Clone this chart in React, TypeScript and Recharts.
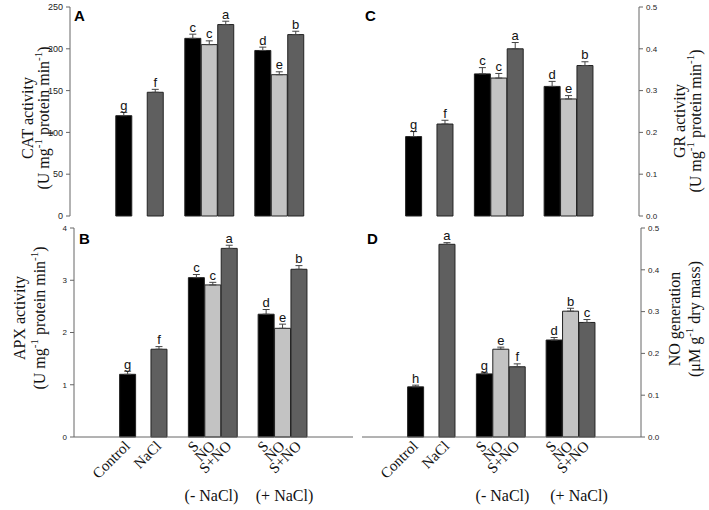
import type { ReactNode } from 'react';
import {
  Bar,
  Cell,
  ComposedChart,
  ErrorBar,
  LabelList,
  XAxis,
  YAxis,
} from 'recharts';

// treatments, left to right, and the two salt groups under the triplets
const treatments = ['Control', 'NaCl', 'S', 'NO', 'S+NO', 'S', 'NO', 'S+NO'];
const saltGroups = ['(- NaCl)', '(+ NaCl)'];

// A: CAT activity
const catMean = [120, 148, 212.5, 205, 229, 198, 169, 217];
const catErr = [4, 3.5, 5, 4.5, 4, 4, 3.5, 4];
const catLetters = ['g', 'f', 'c', 'c', 'a', 'd', 'e', 'b'];
const catTicks = [0, 50, 100, 150, 200, 250];

// B: APX activity
const apxMean = [1.2, 1.68, 3.05, 2.91, 3.61, 2.35, 2.08, 3.21];
const apxErr = [0.06, 0.05, 0.06, 0.05, 0.06, 0.09, 0.08, 0.07];
const apxLetters = ['g', 'f', 'c', 'c', 'a', 'd', 'e', 'b'];
const apxTicks = [0, 1, 2, 3, 4];

// C: GR activity
const grMean = [0.19, 0.22, 0.34, 0.33, 0.4, 0.31, 0.28, 0.36];
const grErr = [0.012, 0.009, 0.015, 0.011, 0.015, 0.012, 0.008, 0.009];
const grLetters = ['g', 'f', 'c', 'c', 'a', 'd', 'e', 'b'];

// D: NO generation
const noMean = [0.12, 0.461, 0.151, 0.21, 0.168, 0.232, 0.301, 0.274];
const noErr = [0.004, 0.004, 0.004, 0.005, 0.007, 0.006, 0.007, 0.007];
const noLetters = ['h', 'a', 'g', 'e', 'f', 'd', 'b', 'c'];

const fractionTicks = [0, 0.1, 0.2, 0.3, 0.4, 0.5];

// bar slots along a 0..17 axis, one unit = one bar width
const SLOTS = [3.28, 5.19, 7.47, 8.47, 9.47, 11.72, 12.72, 13.72];
const X_DOMAIN: [number, number] = [0, 17];

const BLACK = '#000000';
const DARK = '#5f5f5f';
const LIGHT = '#c3c3c3';
const barFills = [BLACK, DARK, BLACK, LIGHT, DARK, BLACK, LIGHT, DARK];

const SERIF = '"Times New Roman", "Liberation Serif", serif';
const SANS = 'Arial, "Liberation Sans", sans-serif';
const FRAME = '#666666';

function TreatmentTick(props: any) {
  const { x, y, index } = props;
  const ex = Number(x) + 3;
  const ey = Number(y) + 10;
  return (
    <g transform={`translate(${ex}, ${ey}) rotate(-45)`}>
      <text x={0} y={0} textAnchor="end" fontFamily={SERIF} fontSize={15} fill="#111">
        {treatments[index]}
      </text>
    </g>
  );
}

interface PanelProps {
  mean: number[];
  err: number[];
  letters: string[];
  yTicks: number[];
  decimals: number;
  side: 'left' | 'right';
  showTreatments: boolean;
  left: number;
  top: number;
  width: number;
  height: number;
  margin: { top: number; right: number; bottom: number; left: number };
  tickFont: number;
}

function Panel({
  mean,
  err,
  letters,
  yTicks,
  decimals,
  side,
  showTreatments,
  left,
  top,
  width,
  height,
  margin,
  tickFont,
}: PanelProps) {
  const rows = treatments.map((name, i) => ({
    name,
    pos: SLOTS[i],
    mean: mean[i],
    err: [0, err[i]],
  }));
  const yMax = yTicks[yTicks.length - 1];
  const mirror = side === 'left' ? 'right' : 'left';

  const renderLetter = (p: any) => {
    const { x, y, width: w, height: h, index } = p;
    const perUnit = Number(h) / mean[index];
    const ty = Number(y) - err[index] * perUnit - 2.5;
    return (
      <text
        x={Number(x) + Number(w) / 2}
        y={ty}
        textAnchor="middle"
        fontFamily={SANS}
        fontSize={13}
        fill="#111"
      >
        {letters[index]}
      </text>
    );
  };

  return (
    <div style={{ position: 'absolute', left, top }}>
      <ComposedChart width={width} height={height} data={rows} margin={margin}>
        <XAxis
          xAxisId="main"
          dataKey="pos"
          type="number"
          domain={X_DOMAIN}
          ticks={SLOTS}
          interval={0}
          tickLine={false}
          tickSize={0}
          tickMargin={0}
          height={showTreatments ? 60 : 0}
          tick={showTreatments ? (p: any) => <TreatmentTick {...p} /> : false}
          stroke={FRAME}
        />
        <XAxis
          xAxisId="frame"
          orientation="top"
          type="number"
          domain={X_DOMAIN}
          tick={false}
          tickLine={false}
          height={0}
          stroke={FRAME}
        />
        <YAxis
          yAxisId="main"
          orientation={side}
          type="number"
          domain={[0, yMax]}
          ticks={yTicks}
          interval={0}
          width={40}
          tickSize={4}
          tickMargin={3}
          tickFormatter={(v: number) => v.toFixed(decimals)}
          tick={{ fontSize: tickFont, fontFamily: SANS, fill: '#222' }}
          stroke={FRAME}
        />
        <YAxis
          yAxisId="frame"
          orientation={mirror}
          type="number"
          domain={[0, 1]}
          tick={false}
          tickLine={false}
          width={0}
          stroke={FRAME}
        />
        <Bar
          xAxisId="main"
          yAxisId="main"
          dataKey="mean"
          barSize={16}
          stroke="#222"
          strokeWidth={1}
          isAnimationActive={false}
        >
          {rows.map((r, i) => (
            <Cell key={`${r.name}-${i}`} fill={barFills[i]} />
          ))}
          <ErrorBar
            dataKey="err"
            width={3.5}
            stroke="#444"
            strokeWidth={1}
            isAnimationActive={false}
          />
          <LabelList dataKey="mean" content={renderLetter} />
        </Bar>
      </ComposedChart>
    </div>
  );
}

const sup = (t: string) => (
  <sup style={{ fontSize: 11, verticalAlign: 'baseline', position: 'relative', top: -7 }}>
    {t}
  </sup>
);

function AxisTitle({ cx, cy, lines, gap }: { cx: number; cy: number; lines: ReactNode[]; gap: number }) {
  return (
    <div
      style={{
        position: 'absolute',
        left: cx,
        top: cy,
        transform: 'translate(-50%, -50%) rotate(-90deg)',
        fontFamily: SERIF,
        fontSize: 16,
        lineHeight: `${gap}px`,
        whiteSpace: 'nowrap',
        textAlign: 'center',
        color: '#111',
      }}
    >
      {lines.map((l, i) => (
        <div key={i}>{l}</div>
      ))}
    </div>
  );
}

function PanelTag({ x, y, text }: { x: number; y: number; text: string }) {
  return (
    <div
      style={{
        position: 'absolute',
        left: x,
        top: y,
        fontFamily: SANS,
        fontWeight: 'bold',
        fontSize: 15,
        lineHeight: '15px',
      }}
    >
      {text}
    </div>
  );
}

function GroupLabel({ cx, text }: { cx: number; text: string }) {
  return (
    <div
      style={{
        position: 'absolute',
        left: cx,
        top: 488,
        transform: 'translateX(-50%)',
        fontFamily: SERIF,
        fontSize: 16,
        lineHeight: '16px',
        whiteSpace: 'nowrap',
        color: '#111',
      }}
    >
      {text}
    </div>
  );
}

const enzymeUnit = (
  <>
    (U mg{sup('-1')} protein min{sup('-1')})
  </>
);

export default function App() {
  return (
    <div
      style={{
        position: 'absolute',
        left: 0,
        top: 0,
        width: 709,
        height: 510,
        background: '#fff',
        overflow: 'hidden',
      }}
    >
      <Panel
        mean={catMean}
        err={catErr}
        letters={catLetters}
        yTicks={catTicks}
        decimals={0}
        side="left"
        showTreatments={false}
        left={0}
        top={0}
        width={360}
        height={226}
        margin={{ top: 7, right: 10, bottom: 10, left: 30 }}
        tickFont={9}
      />
      <Panel
        mean={grMean}
        err={grErr}
        letters={grLetters}
        yTicks={fractionTicks}
        decimals={1}
        side="right"
        showTreatments={false}
        left={350}
        top={0}
        width={329}
        height={226}
        margin={{ top: 7, right: 0, bottom: 10, left: 10 }}
        tickFont={8}
      />
      <Panel
        mean={apxMean}
        err={apxErr}
        letters={apxLetters}
        yTicks={apxTicks}
        decimals={0}
        side="left"
        showTreatments
        left={0}
        top={218}
        width={363}
        height={292}
        margin={{ top: 10, right: 10, bottom: 13, left: 34 }}
        tickFont={8}
      />
      <Panel
        mean={noMean}
        err={noErr}
        letters={noLetters}
        yTicks={fractionTicks}
        decimals={1}
        side="right"
        showTreatments
        left={352}
        top={218}
        width={329}
        height={292}
        margin={{ top: 10, right: 0, bottom: 13, left: 10 }}
        tickFont={8}
      />

      <PanelTag x={74} y={8} text="A" />
      <PanelTag x={365} y={8} text="C" />
      <PanelTag x={79} y={231} text="B" />
      <PanelTag x={367} y={231} text="D" />

      <AxisTitle cx={36} cy={118} gap={16} lines={['CAT activity', enzymeUnit]} />
      <AxisTitle cx={30} cy={318} gap={20} lines={['APX activity', enzymeUnit]} />
      <AxisTitle cx={688} cy={121} gap={16} lines={['GR activity', enzymeUnit]} />
      <AxisTitle
        cx={685}
        cy={319}
        gap={20}
        lines={[
          'NO generation',
          <>
            (μM g{sup('-1')} dry mass)
          </>,
        ]}
      />

      <GroupLabel cx={211.5} text={saltGroups[0]} />
      <GroupLabel cx={284.5} text={saltGroups[1]} />
      <GroupLabel cx={502.5} text={saltGroups[0]} />
      <GroupLabel cx={579} text={saltGroups[1]} />
    </div>
  );
}
